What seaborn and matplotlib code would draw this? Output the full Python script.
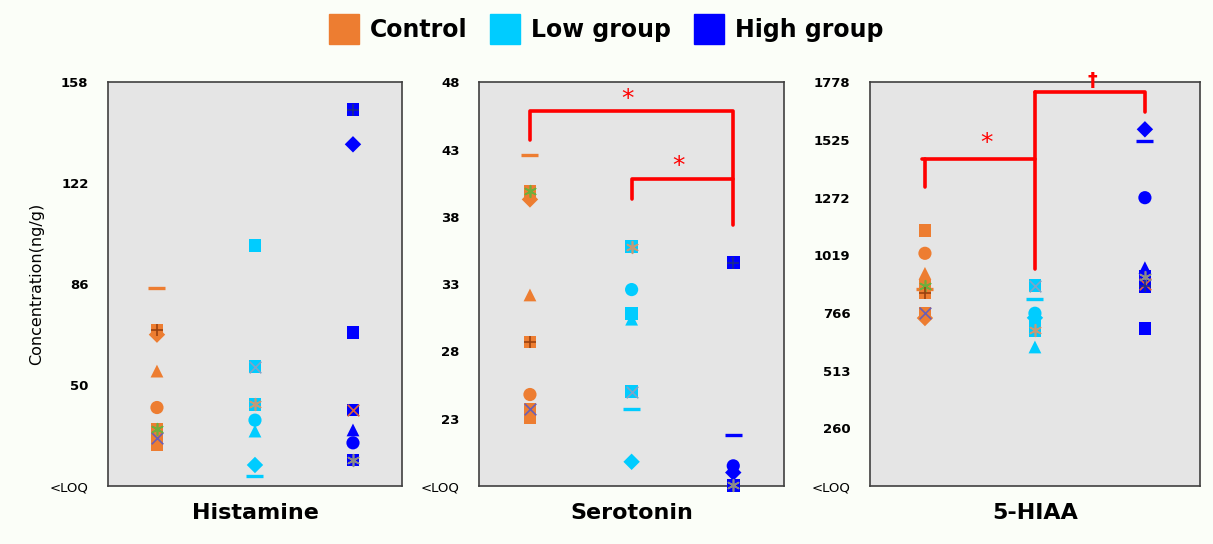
import numpy as np
import pandas as pd
import seaborn as sns
import matplotlib.pyplot as plt
from matplotlib.lines import Line2D

# ---- data ----
groups = ['Control', 'Low group', 'High group']
analytes = ['Histamine', 'Serotonin', '5-HIAA']

# marker code per animal: '_' dash, 's' square, 'D' diamond, '^' triangle, 'o' circle,
# 'sx' square with x, 's*' square with asterisk, 's+' square with plus
hist_ctrl_shape = ['_', 's+', 'D', '^', 'o', 's*', 'sx', 's']
hist_ctrl_val = [84.5, 69.5, 68.0, 55.0, 42.0, 34.2, 31.0, 28.6]
hist_low_shape = ['s', 'sx', 's*', 'o', '^', 'D', '_']
hist_low_val = [99.9, 56.5, 43.1, 37.5, 33.6, 21.5, 17.6]
hist_high_shape = ['s+', 'D', 's', 'sx', '^', 'o', 's*']
hist_high_val = [148.3, 135.9, 68.8, 41.1, 34.0, 29.4, 23.3]

sero_ctrl_shape = ['_', 'D', 's*', '^', 's+', 'o', 's', 'sx']
sero_ctrl_val = [42.6, 39.3, 39.9, 32.2, 28.7, 24.8, 23.05, 23.7]
sero_low_shape = ['s*', 'o', '^', 's', 'sx', '_', 'D']
sero_low_val = [35.8, 32.6, 30.4, 30.8, 25.0, 23.7, 19.8]
sero_high_shape = ['s+', '_', 'D', 'o', 's*']
sero_high_val = [34.6, 21.8, 19.0, 19.5, 18.05]

hiaa_ctrl_shape = ['s', 'o', '^', '_', 's+', 's*', 'D', 'sx']
hiaa_ctrl_val = [1129, 1028, 940, 871, 854, 885, 744, 765]
hiaa_low_shape = ['sx', '_', 'D', 's', 'o', 's*', '^']
hiaa_low_val = [885, 828, 745, 730, 765, 690, 617]
hiaa_high_shape = ['D', '_', 'o', '^', 's', 's+', 'sx', 's*', 's']
hiaa_high_val = [1572, 1522, 1272, 965, 880, 885, 895, 925, 697]

hist_ticks = [14, 50, 86, 122, 158]
sero_ticks = [18, 23, 28, 33, 38, 43, 48]
hiaa_ticks = [7, 260, 513, 766, 1019, 1272, 1525, 1778]

rows = []
for name, sets in [('Histamine', [(hist_ctrl_shape, hist_ctrl_val), (hist_low_shape, hist_low_val), (hist_high_shape, hist_high_val)]),
                   ('Serotonin', [(sero_ctrl_shape, sero_ctrl_val), (sero_low_shape, sero_low_val), (sero_high_shape, sero_high_val)]),
                   ('5-HIAA', [(hiaa_ctrl_shape, hiaa_ctrl_val), (hiaa_low_shape, hiaa_low_val), (hiaa_high_shape, hiaa_high_val)])]:
    for g, (shp, val) in zip(groups, sets):
        for s, v in zip(shp, val):
            rows.append({'analyte': name, 'group': g, 'pos': groups.index(g), 'shape': s, 'value': v})
df = pd.DataFrame(rows)

# ---- style ----
palette = {'Control': '#ED7D31', 'Low group': '#00CCFF', 'High group': '#0000FF'}
overlay = {('Control', 's*'): '#6FAE3C', ('Control', 'sx'): '#6A5FB5', ('Control', 's+'): '#9A4210',
           ('Low group', 's*'): '#C49A78', ('Low group', 'sx'): '#7FA3C8', ('Low group', 's+'): '#2C7FA0',
           ('High group', 's*'): '#8A8A8A', ('High group', 'sx'): '#E0603A', ('High group', 's+'): '#1A2A90'}
overlay_marker = {'sx': 'x', 's+': '+', 's*': (6, 2, 0)}  # (6,2,0) = six-spoke asterisk
base_marker = {'_': '_', 's': 's', 'D': 'D', '^': '^', 'o': 'o', 'sx': 's', 's*': 's', 's+': 's'}
base_size = {'_': 150, 's': 85, 'D': 70, '^': 85, 'o': 90, 'sx': 85, 's*': 85, 's+': 85}

sns.set_theme(style='white')
plt.rcParams['font.family'] = ['DejaVu Sans']
for k in ['text.color', 'axes.labelcolor', 'xtick.color', 'ytick.color']:
    plt.rcParams[k] = 'black'

fig = plt.figure(figsize=(12.13, 5.44), dpi=100, facecolor='#FBFEF8')
bottom, height = 0.1066, 0.742
boxes = [(0.089, 0.2424), (0.395, 0.2514), (0.7172, 0.272)]
tick_sets = {'Histamine': hist_ticks, 'Serotonin': sero_ticks, '5-HIAA': hiaa_ticks}

axes = []
for (left, width), name in zip(boxes, analytes):
    ax = fig.add_axes([left, bottom, width, height])
    ax.set_facecolor('#E5E5E5')
    sub = df[df['analyte'] == name]
    for code in ['o', '^', 'D', 's', 'sx', 's*', 's+', '_']:
        part = sub[sub['shape'] == code]
        if part.empty:
            continue
        kw = dict(linewidth=2.4) if code == '_' else dict(linewidth=0)
        sns.scatterplot(data=part, x='pos', y='value', hue='group', palette=palette,
                        hue_order=groups, marker=base_marker[code], s=base_size[code],
                        legend=False, ax=ax, clip_on=False, zorder=3, **kw)
        if code in overlay_marker:
            for g, gp in part.groupby('group'):
                sns.scatterplot(data=gp, x='pos', y='value', color=overlay[(g, code)],
                                marker=overlay_marker[code], s=70, linewidth=1.2, legend=False,
                                ax=ax, clip_on=False, zorder=4)
    ticks = tick_sets[name]
    ax.set_ylim(ticks[0], ticks[-1])
    ax.set_xlim(-0.5, 2.5)
    ax.set_yticks(ticks)
    ax.set_yticklabels(['<LOQ'] + [str(t) for t in ticks[1:]])
    for i, lab in enumerate(ax.get_yticklabels()):
        lab.set_fontweight('normal' if i == 0 else 'bold')
        lab.set_fontsize(9.5)
    ax.tick_params(axis='y', length=0, pad=14)
    ax.set_xticks([])
    ax.set_xlabel(name, fontsize=16, fontweight='bold', labelpad=12)
    ax.set_ylabel('')
    for sp in ax.spines.values():
        sp.set_color('#404040')
        sp.set_linewidth(1.2)
    axes.append(ax)

axes[0].set_ylabel('Concentration(ng/g)', fontsize=11.5, labelpad=4)

# significance brackets
red = '#FF0000'
ax = axes[1]
ax.plot([0, 0, 2, 2], [43.7, 45.9, 45.9, 37.4], color=red, lw=2.6, clip_on=False, zorder=5)
ax.plot([1, 1, 2], [39.3, 40.8, 40.8], color=red, lw=2.6, clip_on=False, zorder=5)
ax.text(0.96, 46.8, '*', color=red, fontsize=18, ha='center', va='center')
ax.text(1.46, 41.8, '*', color=red, fontsize=18, ha='center', va='center')

ax = axes[2]
ax.plot([0, 0], [1318, 1443], color=red, lw=2.6, clip_on=False, zorder=5)
ax.plot([-0.03, 1], [1443, 1443], color=red, lw=2.6, clip_on=False, zorder=5)
ax.plot([1, 1], [957, 1737], color=red, lw=2.6, clip_on=False, zorder=5)
ax.plot([1, 2, 2], [1737, 1737, 1649], color=red, lw=2.6, clip_on=False, zorder=5)
ax.text(0.56, 1510, '*', color=red, fontsize=18, ha='center', va='center')
ax.text(1.52, 1785, '\u2020', color=red, fontsize=14, fontweight='bold', ha='center', va='center', clip_on=False)

# legend
handles = [Line2D([0], [0], marker='s', linestyle='', markersize=22,
                  markerfacecolor=palette[g], markeredgecolor=palette[g], label=g) for g in groups]
fig.legend(handles=handles, loc='center', bbox_to_anchor=(0.5, 0.945), ncol=3, frameon=False,
           prop={'weight': 'bold', 'size': 17}, handletextpad=0.5, columnspacing=1.0,
           handlelength=1.2)

fig.savefig('out.png', dpi=100, facecolor=fig.get_facecolor())
